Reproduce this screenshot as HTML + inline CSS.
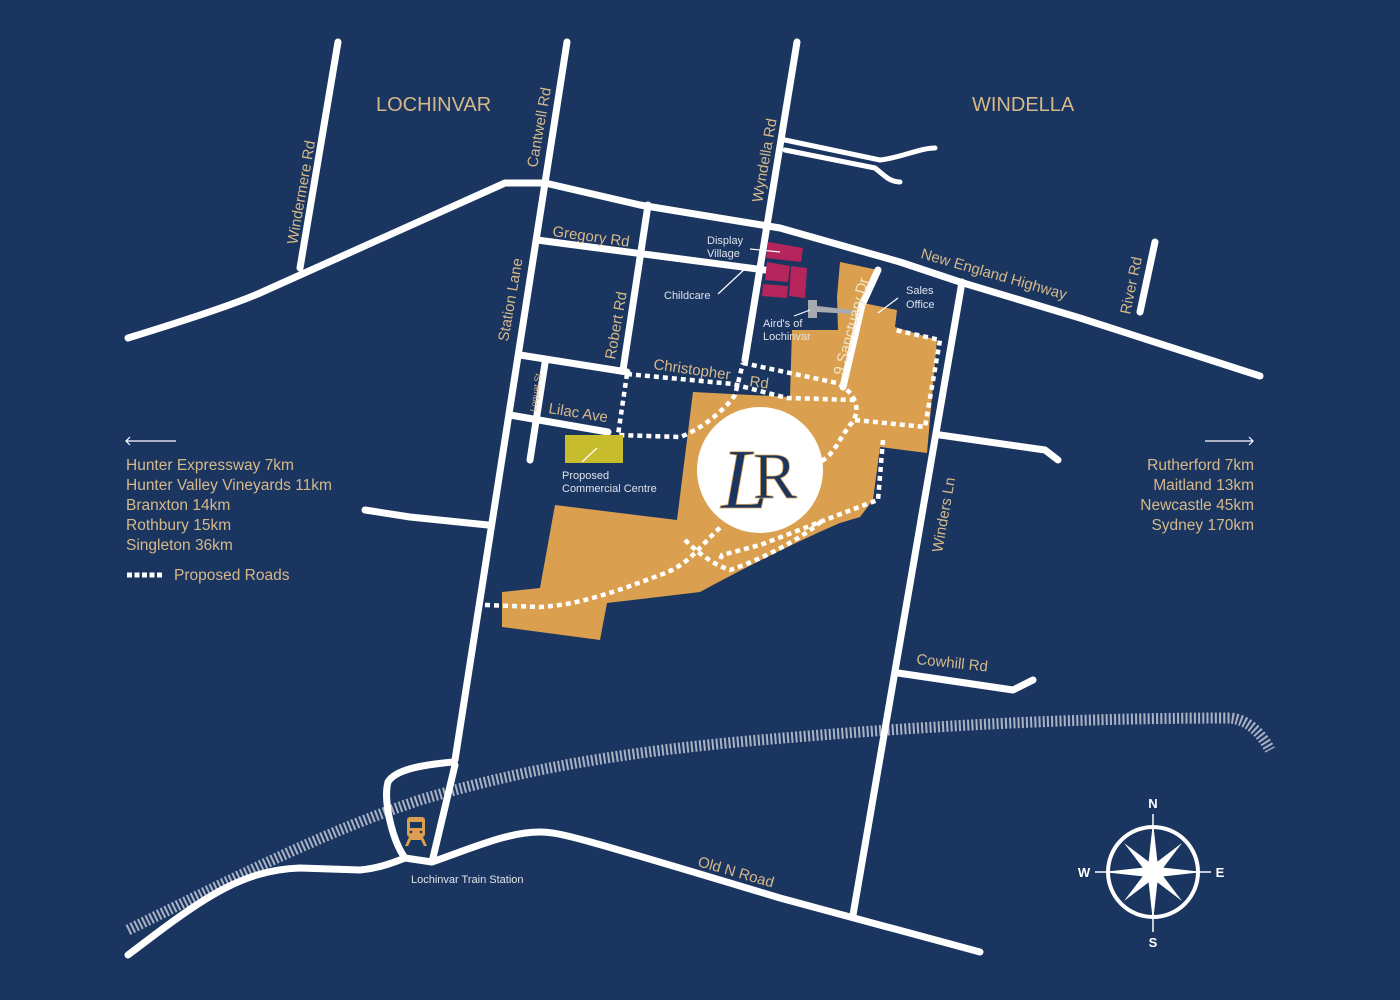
<!DOCTYPE html>
<html><head><meta charset="utf-8"><style>
html,body{margin:0;padding:0;background:#1a3560;}
svg{display:block;}
text{font-family:"Liberation Sans",sans-serif;}
.g{fill:#d6b98a;}
.w{fill:#dfe3ea;}
</style></head><body>
<svg width="1400" height="1000" viewBox="0 0 1400 1000" xmlns="http://www.w3.org/2000/svg">
<rect width="1400" height="1000" fill="#1a3560"/>
<!-- railway -->
<path d="M128,930 C250,870 330,830 420,800 C520,770 620,752 760,740 C900,728 1050,718 1230,718 C1250,720 1262,735 1270,750" fill="none" stroke="#aab2c4" stroke-width="11" stroke-dasharray="2 2.2"/>
<!-- gold area -->
<path d="M502,592 L540,588 L555,505 L677,520 L693,392 L790,397 L792,330 L838,330 L837,297 L840,262 L878,270 L863,303 L897,310 L895,327 L937,340 L927,453 L880,447 L873,500 L860,517 L840,523 C800,540 740,570 700,592 L607,603 L600,640 L502,627 Z" fill="#dba04f"/>
<!-- roads -->
<g fill="none" stroke="#fff" stroke-width="7" stroke-linecap="round" stroke-linejoin="round">
<path d="M128,338 C180,322 230,306 260,293 L505,183 L545,183 L640,205 L780,228 L900,262 L960,282 L1080,318 L1260,376"/>
<path d="M338,42 L300,268"/>
<path d="M567,42 L455,760"/>
<path d="M797,42 L745,360"/>
<path d="M537,240 L765,270"/>
<path d="M648,205 L623,370"/>
<path d="M520,355 L627,372"/>
<path d="M545,363 L530,460"/>
<path d="M510,415 L608,432"/>
<path d="M962,282 L853,915"/>
<path d="M878,270 L862,305 L843,387"/>
<path d="M940,435 L1045,450 L1058,460"/>
<path d="M898,673 L1013,690 L1033,680"/>
<path d="M1155,242 L1140,312"/>
<path d="M365,510 L410,517 L488,525"/>
<path d="M128,955 C200,900 240,870 300,868 L360,870 C380,868 395,862 405,858"/>
<path d="M432,862 C480,845 510,832 540,832 C560,832 580,838 780,898 L980,952"/>
<path d="M453,762 C420,765 395,770 388,782 C383,800 392,840 405,858 L432,862 L455,765"/>
<path d="M785,140 L880,160 C900,158 920,148 935,148" stroke-width="5"/>
<path d="M785,150 L875,168 C885,176 890,182 900,182" stroke-width="5"/>
</g>
<!-- proposed dotted roads -->
<g fill="none" stroke="#fff" stroke-width="4.5" stroke-dasharray="5 4">
<path d="M627,374 L733,384 L787,398 L855,400"/>
<path d="M743,363 L837,383 C860,395 860,415 850,425 C835,445 835,455 815,465"/>
<path d="M627,374 L618,435 L680,437 C700,430 725,410 735,395 L743,363"/>
<path d="M855,420 L925,427 L940,340 L895,330"/>
<path d="M883,440 L878,500 C850,510 800,530 760,545 L722,555 L720,560"/>
<path d="M485,605 L540,607 C580,605 620,590 660,575 C690,565 700,545 722,526"/>
<path d="M685,540 C700,555 715,565 730,570 C760,560 800,540 823,520"/>
</g>
<!-- crimson blocks -->
<g fill="#b5245a">
<path d="M768,242 L803,248 L801,262 L766,258 Z"/>
<path d="M767,262 L790,266 L788,282 L765,280 Z"/>
<path d="M791,266 L807,268 L805,298 L789,296 Z"/>
<path d="M763,284 L788,286 L787,298 L762,296 Z"/>
</g>
<path d="M808,300 L817,300 L817,306 L853,310 L853,314 L817,312 L817,318 L808,318 Z" fill="#a8aab2"/>
<rect x="565" y="435" width="58" height="28" fill="#c7bd2c"/>
<!-- logo -->
<circle cx="760" cy="470" r="63" fill="#fff"/>
<text x="745" y="508" text-anchor="middle" style="font-family:'Liberation Serif',serif;font-size:86px;font-style:italic;" fill="#1a3560" stroke="#d9a55a" stroke-width="0.8">L</text>
<text x="775" y="498" text-anchor="middle" style="font-family:'Liberation Serif',serif;font-size:66px;" fill="#1a3560" stroke="#d9a55a" stroke-width="0.8">R</text>
<!-- leader lines -->
<g stroke="#fff" stroke-width="1.2">
<line x1="750" y1="249" x2="780" y2="252"/>
<line x1="718" y1="294" x2="748" y2="266"/>
<line x1="794" y1="316" x2="810" y2="310"/>
<line x1="878" y1="313" x2="898" y2="298"/>
<line x1="582" y1="462" x2="597" y2="448"/>
<line x1="126" y1="441" x2="176" y2="441"/>
<line x1="1205" y1="441" x2="1253" y2="441"/>
</g>
<path d="M130,437 L126,441 L130,445" fill="none" stroke="#fff" stroke-width="1.2"/>
<path d="M1249,437 L1253,441 L1249,445" fill="none" stroke="#fff" stroke-width="1.2"/>
<!-- labels -->
<text x="376" y="111" font-size="20" class="g">LOCHINVAR</text>
<text x="972" y="111" font-size="20" class="g">WINDELLA</text>
<text transform="translate(297,245) rotate(-80)" font-size="15" class="g">Windermere Rd</text>
<text transform="translate(537,168) rotate(-80)" font-size="15" class="g">Cantwell Rd</text>
<text transform="translate(762,203) rotate(-80)" font-size="15" class="g">Wyndella Rd</text>
<text transform="translate(552,236) rotate(8)" font-size="15" class="g">Gregory Rd</text>
<text transform="translate(508,342) rotate(-80)" font-size="15" class="g">Station Lane</text>
<text transform="translate(615,360) rotate(-80)" font-size="15" class="g">Robert Rd</text>
<text transform="translate(653,369) rotate(8)" font-size="15" class="g">Christopher</text>
<text transform="translate(749,386) rotate(8)" font-size="15" class="g">Rd</text>
<text transform="translate(536,412) rotate(-82)" font-size="9" class="g">Loquat St</text>
<text transform="translate(548,413) rotate(9)" font-size="15" class="g">Lilac Ave</text>
<text transform="translate(843,376) rotate(-75)" font-size="15" fill="#f3e6cc">9 Sanctuary Dr</text>
<text transform="translate(920,258) rotate(16)" font-size="15" class="g">New England Highway</text>
<text transform="translate(1130,315) rotate(-78)" font-size="15" class="g">River Rd</text>
<text transform="translate(942,553) rotate(-80)" font-size="15" class="g">Winders Ln</text>
<text transform="translate(916,664) rotate(6)" font-size="15" class="g">Cowhill Rd</text>
<text transform="translate(697,866) rotate(16)" font-size="15" class="g">Old N Road</text>
<text x="707" y="244" font-size="11" class="w">Display</text>
<text x="707" y="257" font-size="11" class="w">Village</text>
<text x="664" y="299" font-size="11" class="w">Childcare</text>
<text x="763" y="327" font-size="11" class="w">Aird's of</text>
<text x="763" y="340" font-size="11" class="w">Lochinvar</text>
<text x="906" y="294" font-size="11" class="w">Sales</text>
<text x="906" y="308" font-size="11" class="w">Office</text>
<text x="562" y="479" font-size="11" class="w">Proposed</text>
<text x="562" y="492" font-size="11" class="w">Commercial Centre</text>
<text x="411" y="883" font-size="11" class="w">Lochinvar Train Station</text>
<g font-size="15.5" class="g">
<text x="126" y="470">Hunter Expressway 7km</text>
<text x="126" y="490">Hunter Valley Vineyards 11km</text>
<text x="126" y="510">Branxton 14km</text>
<text x="126" y="530">Rothbury 15km</text>
<text x="126" y="550">Singleton 36km</text>
<text x="174" y="580">Proposed Roads</text>
</g>
<line x1="127" y1="575" x2="163" y2="575" stroke="#fff" stroke-width="5" stroke-dasharray="5 2.5"/>
<g font-size="15.5" class="g" text-anchor="end">
<text x="1254" y="470">Rutherford 7km</text>
<text x="1254" y="490">Maitland 13km</text>
<text x="1254" y="510">Newcastle 45km</text>
<text x="1254" y="530">Sydney 170km</text>
</g>
<!-- train icon -->
<g fill="#dba04f">
<rect x="407" y="817" width="18" height="20" rx="3"/>
<path d="M409,837 L405,846 L408,846 L411,840 L421,840 L424,846 L427,846 L423,837 Z"/>
</g>
<rect x="410" y="822" width="12" height="6" fill="#1a3560"/>
<circle cx="411" cy="832" r="1.3" fill="#1a3560"/><circle cx="421" cy="832" r="1.3" fill="#1a3560"/>
<!-- compass -->
<g fill="#fff">
<circle cx="1153" cy="872" r="45" fill="none" stroke="#fff" stroke-width="4"/>
<line x1="1153" y1="814" x2="1153" y2="932" stroke="#fff" stroke-width="1.5"/>
<line x1="1095" y1="872" x2="1211" y2="872" stroke="#fff" stroke-width="1.5"/>
<path d="M1153,822 L1158,867 L1203,872 L1158,877 L1153,922 L1148,877 L1103,872 L1148,867 Z"/>
<path d="M1124,843 L1157,868 L1182,901 L1149,876 Z"/>
<path d="M1182,843 L1157,876 L1124,901 L1149,868 Z"/>
<text x="1153" y="808" font-size="13" text-anchor="middle" font-weight="bold">N</text>
<text x="1153" y="947" font-size="13" text-anchor="middle" font-weight="bold">S</text>
<text x="1084" y="877" font-size="13" text-anchor="middle" font-weight="bold">W</text>
<text x="1220" y="877" font-size="13" text-anchor="middle" font-weight="bold">E</text>
</g>
</svg>
</body></html>
